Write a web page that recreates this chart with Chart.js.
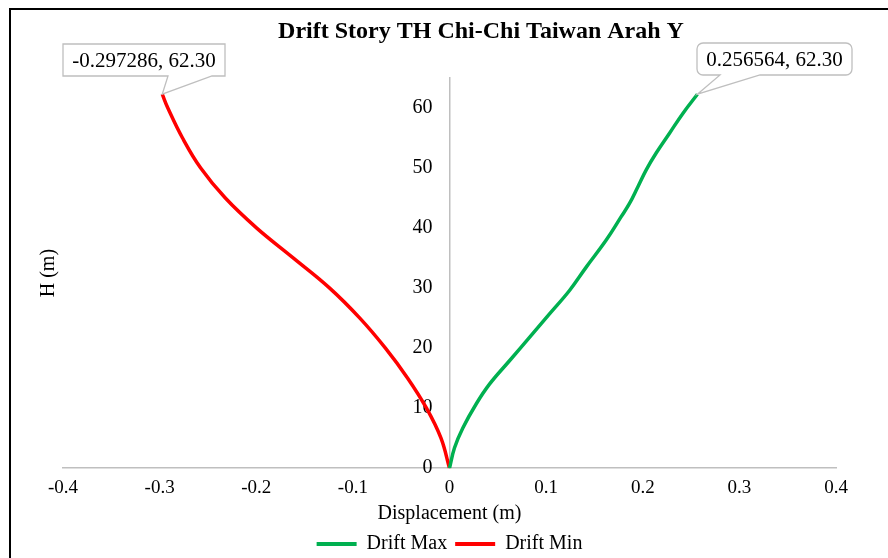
<!DOCTYPE html>
<html lang="en">
<head>
<meta charset="UTF-8">
<title>Drift Story TH Chi-Chi Taiwan Arah Y</title>
<style>
    html, body {
        margin: 0;
        padding: 0;
        background: #fff;
        overflow: hidden;
    }
    .frame {
        position: absolute;
        left: 9px;
        top: 8px;
        width: 900px;
        height: 600px;
        border-left: 2px solid #000;
        border-top: 2px solid #000;
    }
    .chart-box {
        position: absolute;
        left: 0;
        top: 0;
        width: 888px;
        height: 566px;
    }
</style>
</head>
<body>
<div class="frame"></div>
<div class="chart-box"><canvas id="chart"></canvas></div>

<script src="https://cdn.jsdelivr.net/npm/chart.js@4.4.1/dist/chart.umd.min.js"></script>
<script>
    // data (displacement in m, height in m)
    const titleText = 'Drift Story TH Chi-Chi Taiwan Arah Y';
    const seriesNames = ['Drift Max', 'Drift Min'];

    const maxHeight = [0, 3.4, 6.7, 10.7, 14.0, 17.9, 21.8, 25.7, 29.6, 33.5, 38.0, 41.9, 44.1, 46.9, 49.7, 52.5, 55.8, 59.1, 62.3];
    const maxDisp = [0, 0.0052, 0.0138, 0.0276, 0.0414, 0.0621, 0.0828, 0.1035, 0.1242, 0.1415, 0.1622, 0.1777, 0.1863, 0.1950, 0.2036, 0.2139, 0.2277, 0.2415, 0.256564];

    const minHeight = [0, 5, 10, 15, 20, 25, 30, 35, 40, 45, 50, 55, 60, 62.3];
    const minDisp = [0, -0.0088, -0.0238, -0.0433, -0.0663, -0.0928, -0.124, -0.1615, -0.1995, -0.232, -0.2575, -0.2763, -0.2915, -0.297286];

    const xMin = -0.4, xMax = 0.4, xStep = 0.1;
    const yMin = 0, yMax = 65, yStep = 10;

    const toPoints = (xs, ys) => xs.map((x, i) => ({ x: x, y: ys[i] }));

    const SERIF = '"Liberation Serif", "Times New Roman", serif';
    Chart.defaults.font.family = SERIF;
    Chart.defaults.font.size = 20;
    Chart.defaults.color = '#000';

    // rectangle with a pointer tail on its bottom edge
    function drawCallout(ctx, b, px, py, text) {
        const r = b.r;
        const x0 = b.x, y0 = b.y, x1 = b.x + b.w, y1 = b.y + b.h;
        ctx.beginPath();
        ctx.moveTo(x0 + r, y0);
        ctx.lineTo(x1 - r, y0);
        ctx.arcTo(x1, y0, x1, y0 + r, r);
        ctx.lineTo(x1, y1 - r);
        ctx.arcTo(x1, y1, x1 - r, y1, r);
        ctx.lineTo(b.tailB, y1);
        ctx.lineTo(px, py);
        ctx.lineTo(b.tailA, y1);
        ctx.lineTo(x0 + r, y1);
        ctx.arcTo(x0, y1, x0, y1 - r, r);
        ctx.lineTo(x0, y0 + r);
        ctx.arcTo(x0, y0, x0 + r, y0, r);
        ctx.closePath();
        ctx.fillStyle = '#fff';
        ctx.fill();
        ctx.strokeStyle = '#BFBFBF';
        ctx.lineWidth = 1.3;
        ctx.stroke();

        ctx.fillStyle = '#000';
        ctx.font = '21px ' + SERIF;
        ctx.textAlign = 'center';
        ctx.textBaseline = 'middle';
        ctx.fillText(text, x0 + b.w / 2, y0 + b.h / 2 + 1);
    }

    const extras = {
        id: 'extras',
        afterDraw(chart) {
            const ctx = chart.ctx;
            const area = chart.chartArea;
            const xs = chart.scales.x, ys = chart.scales.y;
            ctx.save();

            // title
            ctx.fillStyle = '#000';
            ctx.font = 'bold 24px ' + SERIF;
            ctx.textAlign = 'center';
            ctx.textBaseline = 'middle';
            ctx.fillText(titleText, 481, 32);

            // y axis title, far left
            ctx.save();
            ctx.translate(49, (area.top + area.bottom) / 2);
            ctx.rotate(-Math.PI / 2);
            ctx.font = '20px ' + SERIF;
            ctx.fillText('H (m)', 0, 0);
            ctx.restore();

            // data callouts on the top points
            const lastMin = minDisp.length - 1;
            const lastMax = maxDisp.length - 1;
            drawCallout(ctx, { x: 63, y: 44, w: 162, h: 32, r: 0, tailA: 168, tailB: 212 },
                xs.getPixelForValue(minDisp[lastMin]), ys.getPixelForValue(minHeight[lastMin]),
                minDisp[lastMin].toFixed(6) + ', ' + minHeight[lastMin].toFixed(2));
            drawCallout(ctx, { x: 697, y: 43, w: 155, h: 32, r: 6, tailA: 720, tailB: 760 },
                xs.getPixelForValue(maxDisp[lastMax]), ys.getPixelForValue(maxHeight[lastMax]),
                maxDisp[lastMax].toFixed(6) + ', ' + maxHeight[lastMax].toFixed(2));

            ctx.restore();
        }
    };

    const ctx = document.getElementById('chart').getContext('2d');
    const chart = new Chart(ctx, {
        type: 'scatter',
        data: {
            datasets: [{
                label: seriesNames[0],
                data: toPoints(maxDisp, maxHeight),
                showLine: true,
                borderColor: '#00B050',
                backgroundColor: '#00B050',
                borderWidth: 3.5,
                pointRadius: 0,
                tension: 0.4
            }, {
                label: seriesNames[1],
                data: toPoints(minDisp, minHeight),
                showLine: true,
                borderColor: '#FF0000',
                backgroundColor: '#FF0000',
                borderWidth: 3.5,
                pointRadius: 0,
                tension: 0.4
            }]
        },
        options: {
            responsive: true,
            maintainAspectRatio: false,
            animation: false,
            events: [],
            layout: {
                padding: { left: 63, right: 52, top: 78, bottom: 2 }
            },
            scales: {
                x: {
                    type: 'linear',
                    position: 'bottom',
                    min: xMin,
                    max: xMax,
                    grid: { display: false, drawTicks: false },
                    border: { display: true, color: '#BFBFBF', width: 1.5 },
                    ticks: { stepSize: xStep, padding: 8, font: { size: 19 } },
                    title: {
                        display: true,
                        text: 'Displacement (m)',
                        font: { size: 20 },
                        padding: { top: -5, bottom: 0 }
                    }
                },
                y: {
                    type: 'linear',
                    position: 'center',
                    min: yMin,
                    max: yMax,
                    grid: { display: false, drawTicks: false },
                    border: { display: true, color: '#BFBFBF', width: 1.5 },
                    ticks: { stepSize: yStep, padding: 17, includeBounds: false, font: { size: 20 } }
                }
            },
            plugins: {
                title: { display: false },
                tooltip: { enabled: false },
                legend: {
                    position: 'bottom',
                    labels: {
                        usePointStyle: true,
                        pointStyle: 'line',
                        pointStyleWidth: 40,
                        padding: 8,
                        font: { size: 20 },
                        generateLabels: (c) => Chart.defaults.plugins.legend.labels.generateLabels(c)
                            .map(item => Object.assign(item, { lineWidth: 4 }))
                    }
                }
            }
        },
        plugins: [extras]
    });
</script>
</body>
</html>
